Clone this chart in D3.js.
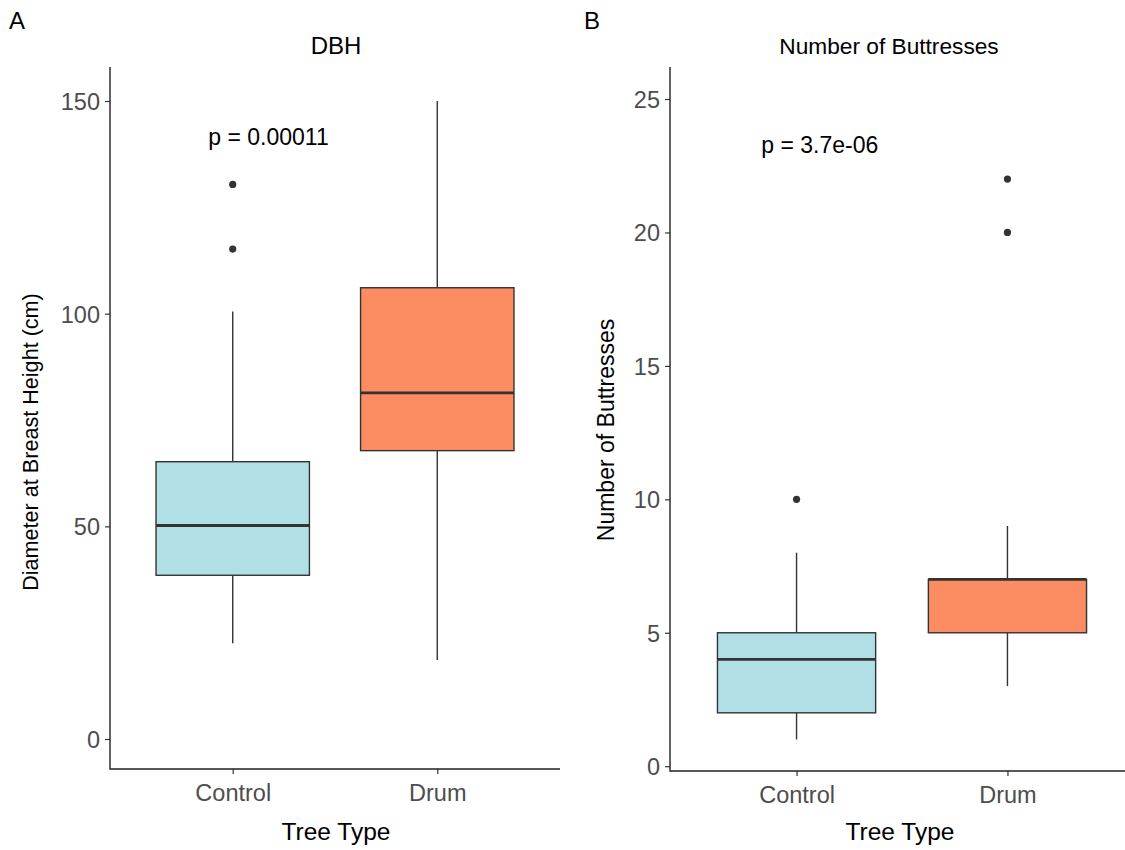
<!DOCTYPE html>
<html>
<head>
<meta charset="utf-8">
<script src="https://cdn.jsdelivr.net/npm/d3@7"></script>
<style>
  body { margin: 0; background: #fff; }
  text { font-family: "Liberation Sans", Arial, sans-serif; }
</style>
</head>
<body>
<div id="plot"></div>
<script>
// tree types
var groups = ["Control", "Drum"];
var fills = ["#B0DFE5", "#FC8D62"];

// DBH box stats (cm)
var dbhLow = [22.5, 18.6];
var dbhQ1 = [38.5, 67.8];
var dbhMed = [50.2, 81.4];
var dbhQ3 = [65.2, 106.1];
var dbhHigh = [100.5, 150];
var dbhOut = [[130.4, 115.2], []];
var dbhTicks = [0, 50, 100, 150];

// buttress box stats
var butLow = [1, 3];
var butQ1 = [2, 5];
var butMed = [4, 7];
var butQ3 = [5, 7];
var butHigh = [8, 9];
var butOut = [[10], [20, 22]];
var butTicks = [0, 5, 10, 15, 20, 25];

var W = 1125, H = 850;
var svg = d3.select("#plot").append("svg")
    .attr("width", W)
    .attr("height", H);

function panel(cfg) {
  var x = d3.scalePoint()
      .domain(groups)
      .range([cfg.left, cfg.right])
      .padding(0.6);
  var step = x.step();
  var y = d3.scaleLinear()
      .domain(cfg.yDomain)
      .range([cfg.bottom, cfg.top]);

  var g = svg.append("g");
  var bw = step * 0.75;

  var rows = groups.map(function(k, i) {
    return { key: k, fill: fills[i], low: cfg.low[i], q1: cfg.q1[i], med: cfg.med[i],
             q3: cfg.q3[i], high: cfg.high[i], out: cfg.out[i] };
  });

  var box = g.selectAll(".box")
      .data(rows)
    .enter().append("g")
      .attr("class", "box");

  // whiskers
  box.append("line")
      .attr("x1", function(d) { return x(d.key); })
      .attr("x2", function(d) { return x(d.key); })
      .attr("y1", function(d) { return y(d.q3); })
      .attr("y2", function(d) { return y(d.high); })
      .attr("stroke", "#333").attr("stroke-width", 1.4);
  box.append("line")
      .attr("x1", function(d) { return x(d.key); })
      .attr("x2", function(d) { return x(d.key); })
      .attr("y1", function(d) { return y(d.q1); })
      .attr("y2", function(d) { return y(d.low); })
      .attr("stroke", "#333").attr("stroke-width", 1.4);

  box.append("rect")
      .attr("x", function(d) { return x(d.key) - bw / 2; })
      .attr("width", bw)
      .attr("y", function(d) { return y(d.q3); })
      .attr("height", function(d) { return y(d.q1) - y(d.q3); })
      .attr("fill", function(d) { return d.fill; })
      .attr("stroke", "#333").attr("stroke-width", 1.4);

  box.append("line")
      .attr("x1", function(d) { return x(d.key) - bw / 2; })
      .attr("x2", function(d) { return x(d.key) + bw / 2; })
      .attr("y1", function(d) { return y(d.med); })
      .attr("y2", function(d) { return y(d.med); })
      .attr("stroke", "#333").attr("stroke-width", 2.8);

  box.selectAll(".out")
      .data(function(d) { return d.out.map(function(v) { return { key: d.key, v: v }; }); })
    .enter().append("circle")
      .attr("class", "out")
      .attr("cx", function(d) { return x(d.key); })
      .attr("cy", function(d) { return y(d.v); })
      .attr("r", 3.6)
      .attr("fill", "#333");

  // axes
  var yAxis = d3.axisLeft(y).tickValues(cfg.ticks).tickSize(5).tickPadding(5);
  var gy = g.append("g")
      .attr("transform", "translate(" + cfg.left + ",0)")
      .call(yAxis);
  var xAxis = d3.axisBottom(x).tickSize(5).tickPadding(5);
  var gx = g.append("g")
      .attr("transform", "translate(0," + cfg.bottom + ")")
      .call(xAxis);

  [gx, gy].forEach(function(a) {
    a.select(".domain").remove();
    a.selectAll(".tick line").attr("stroke", "#333").attr("stroke-width", 1.2);
    a.selectAll(".tick text").attr("fill", "#4D4D4D").style("font-size", "23.5px");
  });
  gx.selectAll(".tick text").attr("dy", "0.92em");
  gy.selectAll(".tick text").attr("dy", "0.36em");

  g.append("path")
      .attr("d", "M" + cfg.left + "," + cfg.top + "V" + cfg.bottom + "H" + cfg.right)
      .attr("fill", "none")
      .attr("stroke", "#222").attr("stroke-width", 1.4);

  // titles
  g.append("text")
      .attr("x", cfg.titleX).attr("y", 54)
      .attr("text-anchor", "middle")
      .style("font-size", cfg.titleSize)
      .text(cfg.title);
  g.append("text")
      .attr("x", cfg.xTitleX).attr("y", 840)
      .attr("text-anchor", "middle")
      .style("font-size", "24.5px")
      .text("Tree Type");
  g.append("text")
      .attr("transform", "translate(" + cfg.yTitleX + "," + cfg.yTitleY + ") rotate(-90)")
      .attr("text-anchor", "middle")
      .style("font-size", cfg.yTitleSize)
      .text(cfg.yTitle);

  // p-value
  g.append("text")
      .attr("x", x(groups[0]) + step * cfg.pPos[0])
      .attr("y", y(cfg.pPos[1]))
      .attr("dy", "0.36em")
      .attr("text-anchor", "middle")
      .style("font-size", "23px")
      .text(cfg.pText);

  svg.append("text")
      .attr("x", cfg.letterX).attr("y", 29)
      .style("font-size", "24px")
      .text(cfg.letter);
}

panel({
  left: 110, right: 560, top: 67, bottom: 769,
  yDomain: [-7.05, 158], ticks: dbhTicks,
  low: dbhLow, q1: dbhQ1, med: dbhMed, q3: dbhQ3, high: dbhHigh, out: dbhOut,
  title: "DBH", titleX: 336, titleSize: "24px", xTitleX: 336,
  yTitle: "Diameter at Breast Height (cm)", yTitleX: 38, yTitleY: 442, yTitleSize: "21.6px",
  pText: "p = 0.00011", pPos: [0.175, 141.5],
  letter: "A", letterX: 9
});

panel({
  left: 670, right: 1134, top: 67, bottom: 771,
  yDomain: [-0.18, 26.2], ticks: butTicks,
  low: butLow, q1: butQ1, med: butMed, q3: butQ3, high: butHigh, out: butOut,
  title: "Number of Buttresses", titleX: 889, titleSize: "22.7px", xTitleX: 900,
  yTitle: "Number of Buttresses", yTitleX: 614, yTitleY: 430, yTitleSize: "23px",
  pText: "p = 3.7e-06", pPos: [0.11, 23.3],
  letter: "B", letterX: 584
});
</script>
</body>
</html>
